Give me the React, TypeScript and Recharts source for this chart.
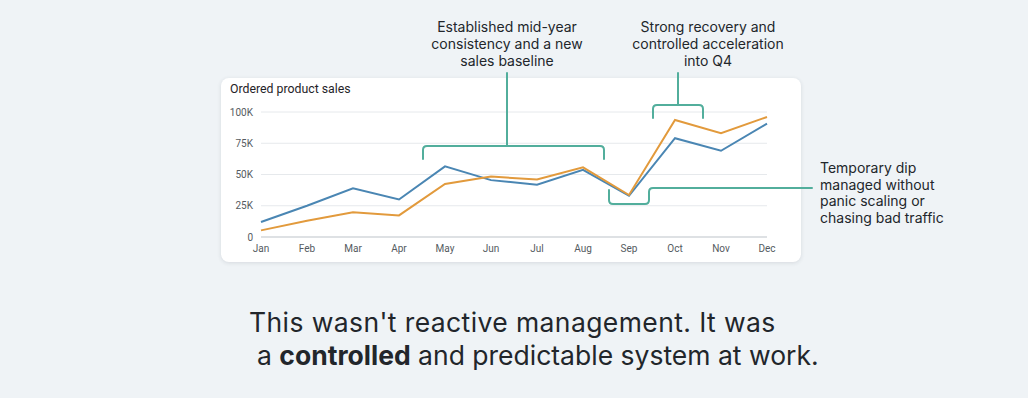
import { CartesianGrid, Line, LineChart, XAxis, YAxis } from 'recharts';

const months = ['Jan', 'Feb', 'Mar', 'Apr', 'May', 'Jun', 'Jul', 'Aug', 'Sep', 'Oct', 'Nov', 'Dec'];
const blueSales = [12000, 25000, 39000, 30000, 56500, 45500, 41800, 53700, 33000, 79000, 69000, 90700];
const orangeSales = [5300, 13000, 19700, 17300, 42400, 48300, 46000, 55700, 33600, 93600, 83000, 96000];
const yTicks = [0, 25000, 50000, 75000, 100000];

const data = months.map((m, i) => ({ month: m, blue: blueSales[i], orange: orangeSales[i] }));

const TEAL = '#52ae9c';
const TEXT = '#22262b';

const fmtK = (v: number) => (v === 0 ? '0' : `${v / 1000}K`);

function Annotations() {
  return (
    <svg
      width={1028}
      height={398}
      style={{ position: 'absolute', left: 0, top: 0, pointerEvents: 'none' }}
    >
      <g fill="none" stroke={TEAL} strokeWidth={2} strokeLinecap="round" strokeLinejoin="round">
        {/* mid-year bracket */}
        <path d="M507,73 V146" />
        <path d="M423,159 V150 Q423,146 427,146 H600 Q604,146 604,150 V159" />
        {/* Q4 bracket */}
        <path d="M678,73 V105" />
        <path d="M653,118 V109 Q653,105 657,105 H699 Q703,105 703,109 V118" />
        {/* Sep dip bracket */}
        <path d="M609,190 V200 Q609,204 613,204 H645 Q649,204 649,200 V192 Q649,188 653,188 H812" />
      </g>
    </svg>
  );
}

export default function App() {
  const ann: React.CSSProperties = {
    position: 'absolute',
    fontFamily: 'Inter, sans-serif',
    fontSize: 14,
    lineHeight: '17px',
    color: TEXT,
    whiteSpace: 'nowrap',
  };
  const big: React.CSSProperties = {
    position: 'absolute',
    fontFamily: 'Inter, sans-serif',
    fontSize: 26.5,
    lineHeight: '33px',
    color: TEXT,
    whiteSpace: 'nowrap',
  };
  return (
    <div
      style={{
        position: 'absolute',
        left: 0,
        top: 0,
        width: 1028,
        height: 398,
        background: '#eff3f6',
        overflow: 'hidden',
      }}
    >
      <div style={{ ...ann, left: 407, width: 200, top: 18, textAlign: 'center' }}>
        Established mid-year
        <br />
        consistency and a new
        <br />
        sales baseline
      </div>
      <div style={{ ...ann, left: 608, width: 200, top: 18, textAlign: 'center' }}>
        Strong recovery and
        <br />
        controlled acceleration
        <br />
        into Q4
      </div>
      <div style={{ ...ann, left: 820, top: 160, lineHeight: '16.5px' }}>
        Temporary dip
        <br />
        managed without
        <br />
        panic scaling or
        <br />
        chasing bad traffic
      </div>

      <div
        style={{
          position: 'absolute',
          left: 221,
          top: 78,
          width: 580,
          height: 184,
          background: '#ffffff',
          borderRadius: 8,
          boxShadow: '0 1px 4px rgba(30,40,60,0.12)',
        }}
      >
        <div
          style={{
            position: 'absolute',
            left: 9,
            top: 4,
            fontFamily: 'Roboto, sans-serif',
            fontSize: 12.3,
            color: '#1f2328',
          }}
        >
          Ordered product sales
        </div>
        <LineChart
          width={580}
          height={184}
          data={data}
          margin={{ top: 34, right: 34, left: 0, bottom: 5 }}
        >
          <CartesianGrid vertical={false} stroke="#e6e9ec" />
          <XAxis
            dataKey="month"
            tickLine={false}
            axisLine={{ stroke: '#c9ced3' }}
            height={20}
            tick={{ fontSize: 10, fill: '#555b61', fontFamily: 'Roboto, sans-serif' }}
            interval={0}
          />
          <YAxis
            ticks={yTicks}
            domain={[0, 100000]}
            tickFormatter={fmtK}
            tickLine={false}
            axisLine={false}
            width={40}
            tick={{ fontSize: 10, fill: '#555b61', fontFamily: 'Roboto, sans-serif' }}
          />
          <Line
            dataKey="blue"
            stroke="#4a86b3"
            strokeWidth={2}
            dot={false}
            type="linear"
            isAnimationActive={false}
          />
          <Line
            dataKey="orange"
            stroke="#e29a3c"
            strokeWidth={2}
            dot={false}
            type="linear"
            isAnimationActive={false}
          />
        </LineChart>
      </div>

      <Annotations />

      <div style={{ ...big, left: 249, top: 306, letterSpacing: 0.4 }}>
        This wasn't reactive management. It was
      </div>
      <div style={{ ...big, left: 257, top: 339 }}>
        a <b>controlled</b> and predictable system at work.
      </div>
    </div>
  );
}
